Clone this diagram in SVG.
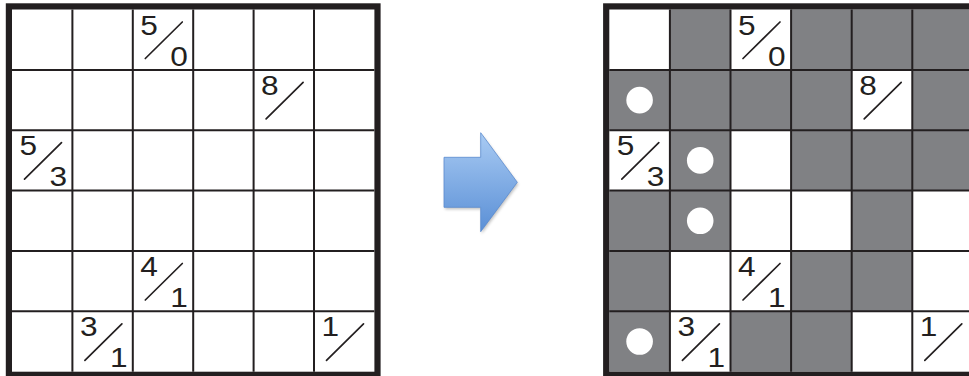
<svg xmlns="http://www.w3.org/2000/svg" width="969" height="376" viewBox="0 0 969 376">
<style>
.bg{fill:#ffffff}
.g{fill:#808184}
.ln{stroke:#231f20;stroke-width:2;fill:none}
.bd{stroke:#231f20;stroke-width:6.2;fill:none}
.sl{stroke:#231f20;stroke-width:1.7;stroke-linecap:round}
.d{font-family:"Liberation Sans",Arial,sans-serif;font-size:27.5px;fill:#231f20}
.c{fill:#ffffff}
</style>
<defs>
<linearGradient id="ag" x1="0" y1="0" x2="0" y2="1">
<stop offset="0" stop-color="#a9cbf3"/>
<stop offset="1" stop-color="#5a8fd6"/>
</linearGradient>
<filter id="sh" x="-20%" y="-20%" width="140%" height="140%">
<feGaussianBlur stdDeviation="1.5"/>
</filter>
</defs>
<rect width="969" height="376" class="bg"/>

<g id="left-grid">
<g id="left-lines">
<path class="ln" d="M72.4 9.5V371.7M132.8 9.5V371.7M193.2 9.5V371.7M253.6 9.5V371.7M314 9.5V371.7M12 69.9H374.4M12 130.2H374.4M12 190.6H374.4M12 251H374.4M12 311.3H374.4"/>
<rect class="bd" x="8.9" y="6.4" width="368.6" height="368.4"/>
</g>
<g id="L-r0c2"><text class="d" transform="matrix(1.15 0 0 1 140.3 34.5)">5</text><text class="d" transform="matrix(1.15 0 0 1 170.3 65.5)">0</text><line class="sl" x1="145.3" y1="58.5" x2="182.3" y2="22"/></g>
<g id="L-r1c4"><text class="d" transform="matrix(1.15 0 0 1 261.1 94.9)">8</text><line class="sl" x1="266.1" y1="118.9" x2="303.1" y2="82.4"/></g>
<g id="L-r2c0"><text class="d" transform="matrix(1.15 0 0 1 19.5 155.2)">5</text><text class="d" transform="matrix(1.15 0 0 1 49.5 186.2)">3</text><line class="sl" x1="24.5" y1="179.2" x2="61.5" y2="142.7"/></g>
<g id="L-r4c2"><text class="d" transform="matrix(1.15 0 0 1 140.3 276)">4</text><text class="d" transform="matrix(1.15 0 0 1 170.3 307)">1</text><line class="sl" x1="145.3" y1="300" x2="182.3" y2="263.5"/></g>
<g id="L-r5c1"><text class="d" transform="matrix(1.15 0 0 1 79.9 336.3)">3</text><text class="d" transform="matrix(1.15 0 0 1 109.9 367.3)">1</text><line class="sl" x1="84.9" y1="360.3" x2="121.9" y2="323.8"/></g>
<g id="L-r5c5"><text class="d" transform="matrix(1.15 0 0 1 321.5 336.3)">1</text><line class="sl" x1="326.5" y1="360.3" x2="363.5" y2="323.8"/></g>
</g>

<g id="arrow">
<polygon points="445,159.3 481.7,159.3 481.7,134.7 518.3,184.3 481.7,233.7 481.7,209.3 445,209.3" fill="#000" opacity="0.25" filter="url(#sh)"/>
<polygon points="444,157.3 480.7,157.3 480.7,132.7 517.3,182.3 480.7,231.7 480.7,207.3 444,207.3" fill="url(#ag)" stroke="#5b8bd0" stroke-width="0.8"/>
</g>

<g id="right-grid">
<g id="right-shading">
<rect class="g" x="669.9" y="9.5" width="60.6" height="60.4"/>
<rect class="g" x="791.1" y="9.5" width="60.6" height="60.4"/>
<rect class="g" x="851.7" y="9.5" width="60.6" height="60.4"/>
<rect class="g" x="912.3" y="9.5" width="60.6" height="60.4"/>
<rect class="g" x="609.3" y="69.9" width="60.6" height="60.4"/>
<rect class="g" x="669.9" y="69.9" width="60.6" height="60.4"/>
<rect class="g" x="730.5" y="69.9" width="60.6" height="60.4"/>
<rect class="g" x="791.1" y="69.9" width="60.6" height="60.4"/>
<rect class="g" x="912.3" y="69.9" width="60.6" height="60.4"/>
<rect class="g" x="669.9" y="130.2" width="60.6" height="60.4"/>
<rect class="g" x="791.1" y="130.2" width="60.6" height="60.4"/>
<rect class="g" x="851.7" y="130.2" width="60.6" height="60.4"/>
<rect class="g" x="912.3" y="130.2" width="60.6" height="60.4"/>
<rect class="g" x="609.3" y="190.6" width="60.6" height="60.4"/>
<rect class="g" x="669.9" y="190.6" width="60.6" height="60.4"/>
<rect class="g" x="851.7" y="190.6" width="60.6" height="60.4"/>
<rect class="g" x="609.3" y="251" width="60.6" height="60.4"/>
<rect class="g" x="791.1" y="251" width="60.6" height="60.4"/>
<rect class="g" x="851.7" y="251" width="60.6" height="60.4"/>
<rect class="g" x="609.3" y="311.3" width="60.6" height="60.4"/>
<rect class="g" x="730.5" y="311.3" width="60.6" height="60.4"/>
<rect class="g" x="791.1" y="311.3" width="60.6" height="60.4"/>
</g>
<g id="right-lines">
<path class="ln" d="M669.9 9.5V371.7M730.5 9.5V371.7M791.1 9.5V371.7M851.7 9.5V371.7M912.3 9.5V371.7M609.3 69.9H972.9M609.3 130.2H972.9M609.3 190.6H972.9M609.3 251H972.9M609.3 311.3H972.9"/>
<rect class="bd" x="606.2" y="6.4" width="369.8" height="368.4"/>
</g>
<g id="R-circles">
<circle class="c" cx="639.6" cy="100.1" r="13.3"/>
<circle class="c" cx="700.2" cy="160.4" r="13.3"/>
<circle class="c" cx="700.2" cy="220.8" r="13.3"/>
<circle class="c" cx="639.6" cy="341.5" r="13.3"/>
</g>
<g id="R-r0c2"><text class="d" transform="matrix(1.15 0 0 1 738 34.5)">5</text><text class="d" transform="matrix(1.15 0 0 1 768 65.5)">0</text><line class="sl" x1="743" y1="58.5" x2="780" y2="22"/></g>
<g id="R-r1c4"><text class="d" transform="matrix(1.15 0 0 1 859.2 94.9)">8</text><line class="sl" x1="864.2" y1="118.9" x2="901.2" y2="82.4"/></g>
<g id="R-r2c0"><text class="d" transform="matrix(1.15 0 0 1 616.8 155.2)">5</text><text class="d" transform="matrix(1.15 0 0 1 646.8 186.2)">3</text><line class="sl" x1="621.8" y1="179.2" x2="658.8" y2="142.7"/></g>
<g id="R-r4c2"><text class="d" transform="matrix(1.15 0 0 1 738 276)">4</text><text class="d" transform="matrix(1.15 0 0 1 768 307)">1</text><line class="sl" x1="743" y1="300" x2="780" y2="263.5"/></g>
<g id="R-r5c1"><text class="d" transform="matrix(1.15 0 0 1 677.4 336.3)">3</text><text class="d" transform="matrix(1.15 0 0 1 707.4 367.3)">1</text><line class="sl" x1="682.4" y1="360.3" x2="719.4" y2="323.8"/></g>
<g id="R-r5c5"><text class="d" transform="matrix(1.15 0 0 1 919.8 336.3)">1</text><line class="sl" x1="924.8" y1="360.3" x2="961.8" y2="323.8"/></g>
</g>
</svg>
